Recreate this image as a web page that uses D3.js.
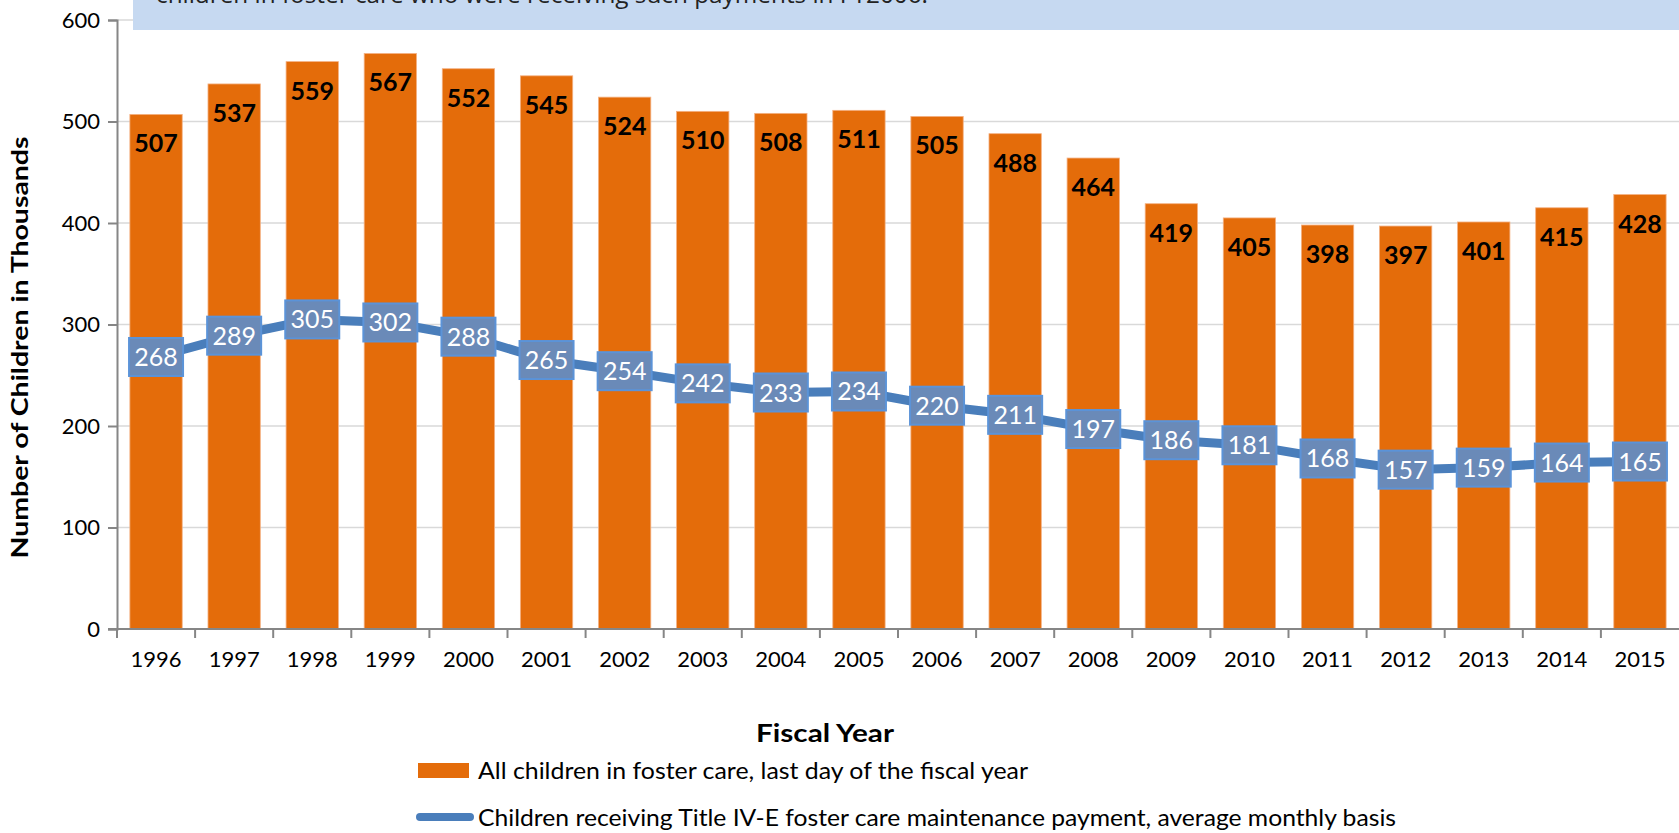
<!DOCTYPE html>
<html>
<head>
<meta charset="utf-8">
<script src="https://cdn.jsdelivr.net/npm/d3@7"></script>
<style>
  html, body { margin: 0; padding: 0; background: #fff; }
  svg { display: block; font-family: Lato, "Open Sans", sans-serif; }
</style>
</head>
<body>
<svg id="chart" width="1679" height="833"></svg>
<script>
const years = ['1996', '1997', '1998', '1999', '2000', '2001', '2002', '2003', '2004', '2005',
  '2006', '2007', '2008', '2009', '2010', '2011', '2012', '2013', '2014', '2015']
const allChildren = [507, 537, 559, 567, 552, 545, 524, 510, 508, 511,
  505, 488, 464, 419, 405, 398, 397, 401, 415, 428]
const titleIVE = [268, 289, 305, 302, 288, 265, 254, 242, 233, 234,
  220, 211, 197, 186, 181, 168, 157, 159, 164, 165]
const yTicks = [0, 100, 200, 300, 400, 500, 600]
const legendLabels = [
  'All children in foster care, last day of the fiscal year',
  'Children receiving Title IV-E foster care maintenance payment, average monthly basis'
]
const noteText = 'children in foster care who were receiving such payments in FY2006.'

const orange = '#E46C0A'
const blue = '#4A7EBB'

const svg = d3.select('#chart')
const margin = { top: 20, right: 0, bottom: 204, left: 117 }
const width = +svg.attr('width')
const height = +svg.attr('height')

const x = d3.scaleBand()
  .domain(years)
  .range([margin.left, width - margin.right])
  .paddingInner(0.33)
  .paddingOuter(0.165)

const y = d3.scaleLinear()
  .domain([0, 600])
  .range([height - margin.bottom, margin.top])

// gridlines
svg.append('g')
  .selectAll('line')
  .data(yTicks.filter(d => d > 0))
  .join('line')
    .attr('x1', margin.left)
    .attr('x2', width)
    .attr('y1', d => y(d))
    .attr('y2', d => y(d))
    .attr('stroke', '#D9D9D9')
    .attr('stroke-width', 1.5)

// note box (cut off at top of picture)
svg.append('rect')
  .attr('x', 133)
  .attr('y', 0)
  .attr('width', width - 133)
  .attr('height', 30)
  .attr('fill', '#C6D9F1')
svg.append('text')
  .attr('x', 156)
  .attr('y', 3)
  .attr('font-family', '"Open Sans", sans-serif')
  .attr('font-size', 23)
  .attr('fill', '#222')
  .attr('textLength', 772)
  .attr('lengthAdjust', 'spacingAndGlyphs')
  .text(noteText)

// bars
svg.append('g')
  .selectAll('rect')
  .data(years)
  .join('rect')
    .attr('x', d => x(d))
    .attr('y', (d, i) => y(allChildren[i]))
    .attr('width', x.bandwidth())
    .attr('height', (d, i) => y(0) - y(allChildren[i]))
    .attr('fill', orange)
    .attr('stroke', '#F4B183')
    .attr('stroke-width', 0.8)

svg.append('g')
  .selectAll('text')
  .data(years)
  .join('text')
    .attr('x', d => x(d) + x.bandwidth() / 2)
    .attr('y', (d, i) => y(allChildren[i]) + 38)
    .attr('text-anchor', 'middle')
    .attr('font-size', 25)
    .attr('font-weight', 'bold')
    .attr('fill', '#000')
    .text((d, i) => allChildren[i])

// axes
const yAxis = svg.append('g')
  .attr('transform', `translate(${margin.left},0)`)
  .call(d3.axisLeft(y).tickValues(yTicks).tickSize(9).tickPadding(8))
yAxis.select('.domain').attr('stroke', '#868686').attr('stroke-width', 2)
yAxis.selectAll('.tick line').attr('stroke', '#868686').attr('stroke-width', 2)
yAxis.selectAll('.tick text').attr('font-size', 22).attr('fill', '#000')
  .attr('font-family', 'Lato, sans-serif')

const xAxis = svg.append('g')
  .attr('transform', `translate(0,${y(0)})`)
  .call(d3.axisBottom(x).tickSize(0).tickPadding(22))
xAxis.select('.domain').attr('stroke', '#868686').attr('stroke-width', 2)
  .attr('d', `M${margin.left - 9},0H${width}`)
xAxis.selectAll('.tick text').attr('font-size', 22).attr('fill', '#000')
  .attr('font-family', 'Lato, sans-serif')

// x ticks between categories
svg.append('g')
  .selectAll('line')
  .data(years)
  .join('line')
    .attr('x1', d => x(d) - x.step() * x.paddingInner() / 2)
    .attr('x2', d => x(d) - x.step() * x.paddingInner() / 2)
    .attr('y1', y(0))
    .attr('y2', y(0) + 9)
    .attr('stroke', '#868686')
    .attr('stroke-width', 2)

// line series
const cx = d => x(d) + x.bandwidth() / 2
const line = d3.line()
  .x(d => cx(d))
  .y((d, i) => y(titleIVE[i]))

svg.append('path')
  .datum(years)
  .attr('d', line)
  .attr('fill', 'none')
  .attr('stroke', blue)
  .attr('stroke-width', 9)
  .attr('stroke-linejoin', 'round')

const lbl = svg.append('g')
  .selectAll('g')
  .data(years)
  .join('g')
    .attr('transform', (d, i) => `translate(${cx(d)},${y(titleIVE[i])})`)
lbl.append('rect')
  .attr('x', -27)
  .attr('y', -19)
  .attr('width', 54)
  .attr('height', 38)
  .attr('fill', '#6A8AB8')
  .attr('stroke', '#5B93D8')
  .attr('stroke-width', 2)
lbl.append('text')
  .attr('text-anchor', 'middle')
  .attr('dy', '0.36em')
  .attr('font-size', 25)
  .attr('fill', '#fff')
  .text((d, i) => titleIVE[i])

// axis titles
svg.append('text')
  .attr('transform', `translate(28,${(y(0) + y(600)) / 2 + 23}) rotate(-90)`)
  .attr('text-anchor', 'middle')
  .attr('font-size', 23)
  .attr('font-weight', 'bold')
  .attr('textLength', 422)
  .attr('lengthAdjust', 'spacingAndGlyphs')
  .text('Number of Children in Thousands')

svg.append('text')
  .attr('x', 825)
  .attr('y', 742)
  .attr('text-anchor', 'middle')
  .attr('font-size', 25)
  .attr('font-weight', 'bold')
  .attr('textLength', 138)
  .attr('lengthAdjust', 'spacingAndGlyphs')
  .text('Fiscal Year')

// legend
const legend = svg.append('g')
legend.append('rect')
  .attr('x', 418)
  .attr('y', 763)
  .attr('width', 51)
  .attr('height', 15)
  .attr('fill', orange)
legend.append('text')
  .attr('x', 478)
  .attr('y', 779)
  .attr('font-size', 24)
  .attr('textLength', 550)
  .attr('lengthAdjust', 'spacingAndGlyphs')
  .text(legendLabels[0])
legend.append('line')
  .attr('x1', 420)
  .attr('x2', 470)
  .attr('y1', 817)
  .attr('y2', 817)
  .attr('stroke', blue)
  .attr('stroke-width', 8)
  .attr('stroke-linecap', 'round')
legend.append('text')
  .attr('x', 478)
  .attr('y', 826)
  .attr('font-size', 24)
  .attr('textLength', 918)
  .attr('lengthAdjust', 'spacingAndGlyphs')
  .text(legendLabels[1])
</script>
</body>
</html>
